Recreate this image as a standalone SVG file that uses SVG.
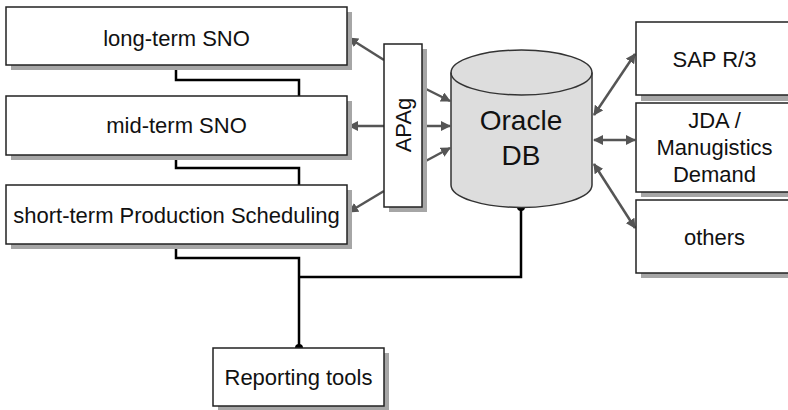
<svg xmlns="http://www.w3.org/2000/svg" width="788" height="410" viewBox="0 0 788 410">
<style>
.box{fill:#fff;stroke:#222;stroke-width:1.5}
.sh{fill:#a6a6a6}
.t{font-family:"Liberation Sans",Arial,sans-serif;font-size:22px;fill:#111;text-anchor:middle}
.bus{fill:none;stroke:#000;stroke-width:2.5}
.ar{fill:none;stroke:#555;stroke-width:2.5}
</style>
<defs>
<marker id="ah" viewBox="0 0 10 10" refX="9" refY="5" markerWidth="4" markerHeight="4" orient="auto-start-reverse" markerUnits="strokeWidth">
<path d="M0,0 L10,5 L0,10 z" fill="#555"/>
</marker>
</defs>

<g id="connectors">
<path class="bus" d="M176,65 V80 H299 V96"/>
<path class="bus" d="M176,155 V168 H299 V185"/>
<path class="bus" d="M176,244 V258 H299 V348"/>
<path class="bus" d="M299,277 H521 V207"/>
<circle cx="299" cy="348" r="4" fill="#000"/>
<circle cx="521" cy="207" r="4" fill="#000"/>
<line class="ar" x1="384" y1="60" x2="349" y2="38" marker-end="url(#ah)"/>
<line class="ar" x1="384" y1="126" x2="349" y2="126" marker-end="url(#ah)"/>
<line class="ar" x1="384" y1="191" x2="349" y2="212" marker-end="url(#ah)"/>
<line class="ar" x1="422" y1="87" x2="450" y2="101" marker-end="url(#ah)"/>
<line class="ar" x1="422" y1="126" x2="450" y2="126" marker-end="url(#ah)"/>
<line class="ar" x1="422" y1="163" x2="450" y2="148" marker-end="url(#ah)"/>
<line class="ar" x1="594" y1="115" x2="635" y2="54" marker-start="url(#ah)" marker-end="url(#ah)"/>
<line class="ar" x1="594" y1="140" x2="635" y2="140" marker-start="url(#ah)" marker-end="url(#ah)"/>
<line class="ar" x1="594" y1="164" x2="635" y2="228" marker-start="url(#ah)" marker-end="url(#ah)"/>
</g>

<g id="long-term">
<rect class="sh" x="11" y="12" width="341" height="58"/>
<rect class="box" x="6" y="7" width="341" height="58"/>
<text class="t" x="176.5" y="46">long-term SNO</text>
</g>
<g id="mid-term">
<rect class="sh" x="11" y="101" width="341" height="59"/>
<rect class="box" x="6" y="96" width="341" height="59"/>
<text class="t" x="176.5" y="133">mid-term SNO</text>
</g>
<g id="short-term">
<rect class="sh" x="11" y="190" width="341" height="59"/>
<rect class="box" x="6" y="185" width="341" height="59"/>
<text class="t" x="176.5" y="223">short-term Production Scheduling</text>
</g>
<g id="apag">
<rect class="sh" x="389" y="49" width="38" height="163"/>
<rect class="box" x="384" y="44" width="38" height="163"/>
<text class="t" transform="translate(411,125) rotate(-90)">APAg</text>
</g>
<g id="oracle">
<path d="M451,72.5 V185 A70.5,22.5 0 0 0 592,185 V72.5 A70.5,22.5 0 0 0 451,72.5 Z" fill="#ddd" stroke="#333" stroke-width="1.5"/>
<path d="M451,72.5 A70.5,22.5 0 0 0 592,72.5" fill="none" stroke="#333" stroke-width="1.5"/>
<text class="t" x="521" y="130" style="font-size:28px">Oracle</text>
<text class="t" x="521" y="165" style="font-size:28px">DB</text>
</g>
<g id="sap">
<rect class="sh" x="641" y="27" width="160" height="74"/>
<rect class="box" x="636" y="22" width="160" height="73"/>
<text class="t" x="714.5" y="67">SAP R/3</text>
</g>
<g id="jda">
<rect class="sh" x="641" y="108" width="160" height="89"/>
<rect class="box" x="636" y="103" width="160" height="89"/>
<text class="t" x="714.5" y="128">JDA /</text>
<text class="t" x="714.5" y="155">Manugistics</text>
<text class="t" x="714.5" y="182">Demand</text>
</g>
<g id="others">
<rect class="sh" x="641" y="205" width="160" height="73"/>
<rect class="box" x="636" y="200" width="160" height="73"/>
<text class="t" x="714.5" y="245">others</text>
</g>
<g id="reporting">
<rect class="sh" x="218" y="353" width="171" height="58"/>
<rect class="box" x="213" y="348" width="171" height="58"/>
<text class="t" x="298.5" y="385">Reporting tools</text>
</g>
</svg>
